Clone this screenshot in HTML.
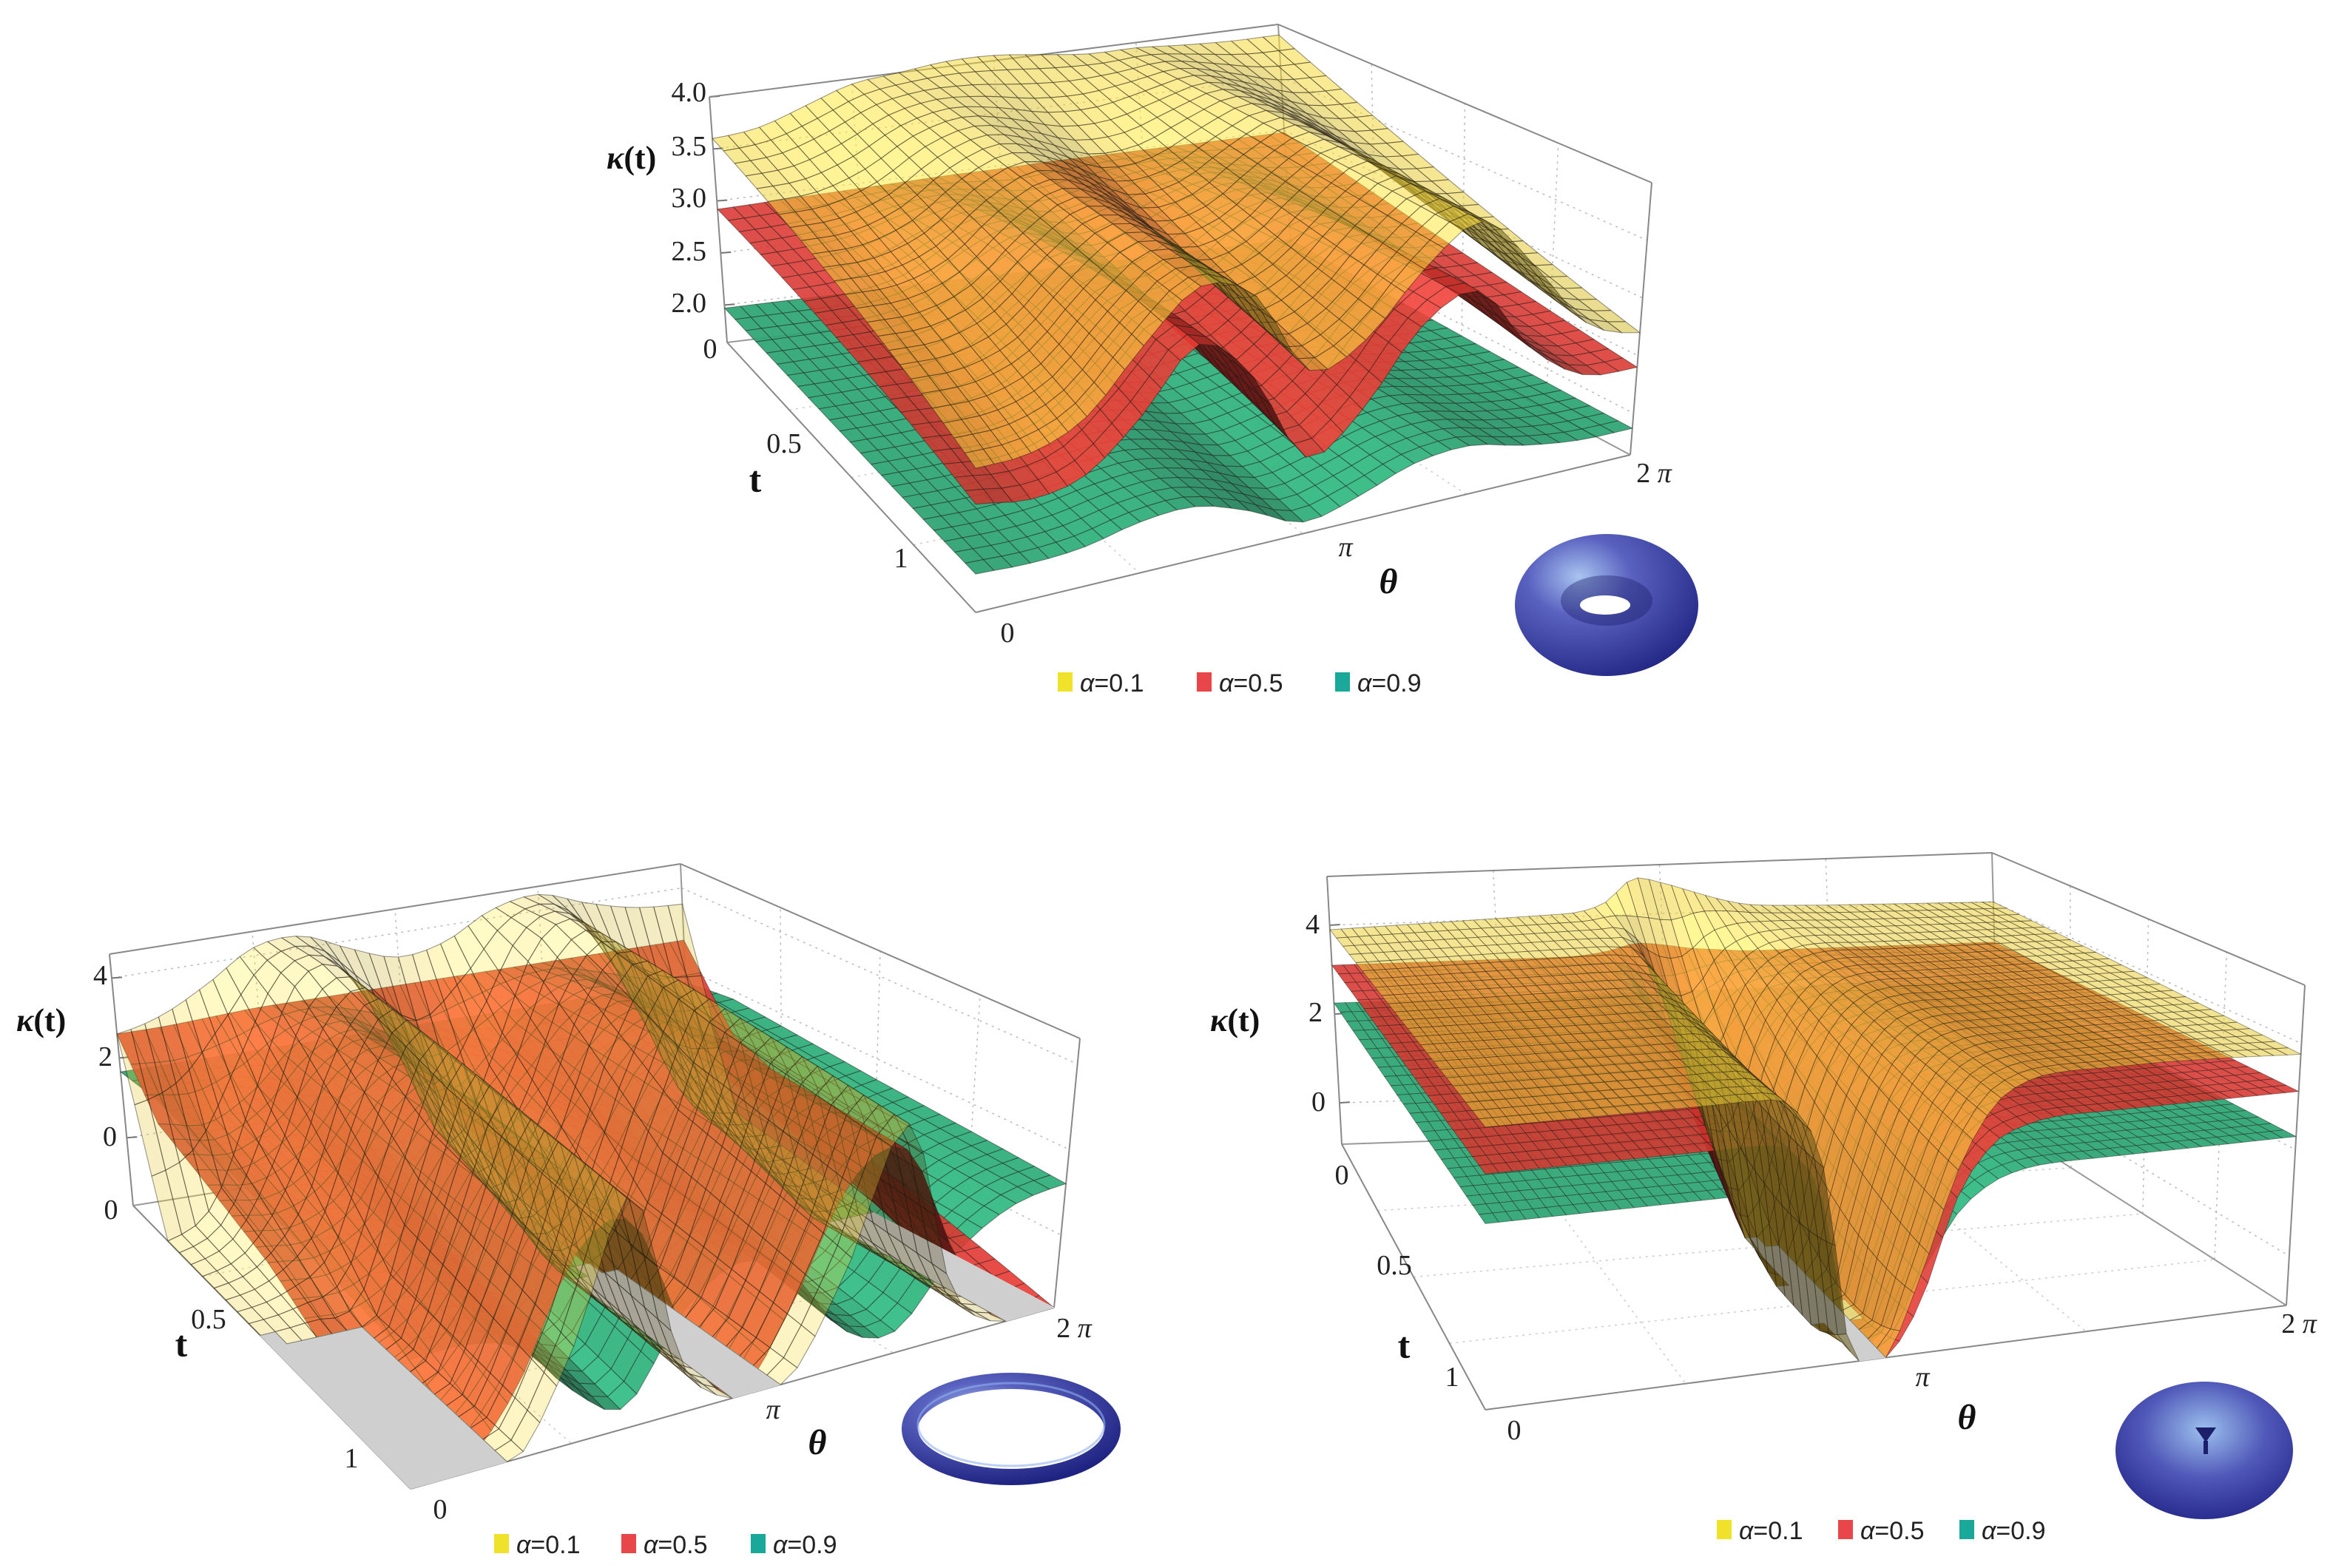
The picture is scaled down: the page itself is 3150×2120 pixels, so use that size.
<!DOCTYPE html>
<html>
<head>
<meta charset="utf-8">
<style>
html,body{margin:0;padding:0;background:#fff;}
svg{display:block;}
.tk{font-family:"Liberation Serif",serif;font-size:38px;fill:#222;}
.ax{font-family:"Liberation Serif",serif;font-weight:bold;fill:#111;}
.lg{font-family:"Liberation Sans",sans-serif;font-size:34px;fill:#222;}
</style>
</head>
<body>
<svg id="chart" width="3150" height="2120" viewBox="0 0 3150 2120" xmlns="http://www.w3.org/2000/svg">
<defs>
<radialGradient id="torusGrad" cx="0.35" cy="0.3" r="0.8">
<stop offset="0" stop-color="#a8c4f0"/>
<stop offset="0.35" stop-color="#5a62c0"/>
<stop offset="1" stop-color="#1e2280"/>
</radialGradient>
<radialGradient id="torusGrad2" cx="0.5" cy="0.35" r="0.7">
<stop offset="0" stop-color="#9cc0ee"/>
<stop offset="0.5" stop-color="#5058b8"/>
<stop offset="1" stop-color="#222688"/>
</radialGradient>
</defs>
<g id="p1"></g>
<g id="p2"></g>
<g id="p3"></g>

<g>
<text class="ax" x="820" y="228" font-size="44"><tspan font-style="italic">κ</tspan>(t)</text>
<text class="tk" x="955" y="137" text-anchor="end">4.0</text>
<text class="tk" x="955" y="210" text-anchor="end">3.5</text>
<text class="tk" x="955" y="280" text-anchor="end">3.0</text>
<text class="tk" x="955" y="352" text-anchor="end">2.5</text>
<text class="tk" x="955" y="422" text-anchor="end">2.0</text>
<text class="tk" x="960" y="484" text-anchor="middle">0</text>
<text class="tk" x="1060" y="612" text-anchor="middle">0.5</text>
<text class="tk" x="1218" y="767" text-anchor="middle">1</text>
<text class="ax" x="1021" y="665" font-size="50" text-anchor="middle">t</text>
<text class="tk" x="1362" y="868" text-anchor="middle">0</text>
<text class="tk" x="1819" y="752" font-size="32" font-style="italic" text-anchor="middle">π</text>
<text class="tk" x="2236" y="652" text-anchor="middle">2 <tspan font-style="italic">π</tspan></text>
<text class="ax" x="1877" y="802" font-size="48" font-style="italic" text-anchor="middle">θ</text>
</g>

<g>
<text class="ax" x="22" y="1394" font-size="44"><tspan font-style="italic">κ</tspan>(t)</text>
<text class="tk" x="145" y="1331" text-anchor="end">4</text>
<text class="tk" x="152" y="1441" text-anchor="end">2</text>
<text class="tk" x="158" y="1549" text-anchor="end">0</text>
<text class="tk" x="150" y="1648" text-anchor="middle">0</text>
<text class="tk" x="282" y="1796" text-anchor="middle">0.5</text>
<text class="tk" x="475" y="1984" text-anchor="middle">1</text>
<text class="ax" x="245" y="1834" font-size="50" text-anchor="middle">t</text>
<text class="tk" x="595" y="2053" text-anchor="middle">0</text>
<text class="tk" x="1045" y="1918" font-size="32" font-style="italic" text-anchor="middle">π</text>
<text class="tk" x="1452" y="1808" text-anchor="middle">2 <tspan font-style="italic">π</tspan></text>
<text class="ax" x="1105" y="1966" font-size="48" font-style="italic" text-anchor="middle">θ</text>
</g>

<g>
<text class="ax" x="1636" y="1394" font-size="44"><tspan font-style="italic">κ</tspan>(t)</text>
<text class="tk" x="1784" y="1262" text-anchor="end">4</text>
<text class="tk" x="1788" y="1381" text-anchor="end">2</text>
<text class="tk" x="1792" y="1502" text-anchor="end">0</text>
<text class="tk" x="1814" y="1601" text-anchor="middle">0</text>
<text class="tk" x="1885" y="1723" text-anchor="middle">0.5</text>
<text class="tk" x="1963" y="1874" text-anchor="middle">1</text>
<text class="ax" x="1898" y="1836" font-size="50" text-anchor="middle">t</text>
<text class="tk" x="2047" y="1946" text-anchor="middle">0</text>
<text class="tk" x="2599" y="1874" font-size="32" font-style="italic" text-anchor="middle">π</text>
<text class="tk" x="3108" y="1802" text-anchor="middle">2 <tspan font-style="italic">π</tspan></text>
<text class="ax" x="2659" y="1932" font-size="48" font-style="italic" text-anchor="middle">θ</text>
</g>

<g>
<ellipse cx="2172" cy="818" rx="124" ry="96" fill="url(#torusGrad)"/>
<ellipse cx="2172" cy="812" rx="62" ry="34" fill="#1c1f6a" opacity="0.4"/>
<ellipse cx="2170" cy="818" rx="34" ry="13" fill="#fff"/>
</g>
<g>
<ellipse cx="1367" cy="1932" rx="137" ry="65" fill="none" stroke="url(#torusGrad)" stroke-width="22"/>
<ellipse cx="1367" cy="1926" rx="126" ry="56" fill="none" stroke="#8fb0ee" stroke-width="3" opacity="0.6"/>
</g>
<g>
<ellipse cx="2980" cy="1961" rx="120" ry="93" fill="url(#torusGrad2)"/>
<path d="M2968 1930 L2982 1950 L2996 1930 Z" fill="#1c1f6a"/>
<rect x="2979" y="1948" width="6" height="18" fill="#1c1f6a"/>
</g>

<g>
<g><rect x="1430" y="909" width="20" height="26" fill="#f0e22a"/><text class="lg" x="1460" y="935"><tspan font-style="italic">α</tspan>=0.1</text></g>
<g><rect x="1618" y="909" width="20" height="26" fill="#e8464a"/><text class="lg" x="1648" y="935"><tspan font-style="italic">α</tspan>=0.5</text></g>
<g><rect x="1805" y="909" width="20" height="26" fill="#1aa89a"/><text class="lg" x="1835" y="935"><tspan font-style="italic">α</tspan>=0.9</text></g>
</g>
<g>
<g><rect x="668" y="2074" width="20" height="26" fill="#f0e22a"/><text class="lg" x="698" y="2100"><tspan font-style="italic">α</tspan>=0.1</text></g>
<g><rect x="840" y="2074" width="20" height="26" fill="#e8464a"/><text class="lg" x="870" y="2100"><tspan font-style="italic">α</tspan>=0.5</text></g>
<g><rect x="1015" y="2074" width="20" height="26" fill="#1aa89a"/><text class="lg" x="1045" y="2100"><tspan font-style="italic">α</tspan>=0.9</text></g>
</g>
<g>
<g><rect x="2321" y="2055" width="20" height="26" fill="#f0e22a"/><text class="lg" x="2351" y="2081"><tspan font-style="italic">α</tspan>=0.1</text></g>
<g><rect x="2485" y="2055" width="20" height="26" fill="#e8464a"/><text class="lg" x="2515" y="2081"><tspan font-style="italic">α</tspan>=0.5</text></g>
<g><rect x="2649" y="2055" width="20" height="26" fill="#1aa89a"/><text class="lg" x="2679" y="2081"><tspan font-style="italic">α</tspan>=0.9</text></g>
</g>
</svg>

<script>
// ---- Data: kappa values sampled uniformly over theta in [0, 2π]; one row per t value ----
const tRows = [0, 0.5, 1];
const p2TRows = [0, 0.12, 0.5, 1];
const p1Yellow = [
  [3.6,3.65,3.8,3.95,4.0,4.05,4.05,4.0,3.95,3.95,3.92,3.9,3.9],
  [3.3,3.3,3.45,3.8,4.0,3.8,3.45,3.5,3.8,4.0,3.7,3.3,3.2],
  [2.88,2.9,3.1,3.6,4.0,3.8,3.05,3.2,3.7,4.0,3.5,2.9,2.7]
];
const p1Red = [
  [2.92,2.93,2.94,2.95,2.96,2.97,2.97,2.98,2.98,2.98,2.98,2.98,2.98],
  [2.8,2.8,2.9,3.2,3.4,3.1,2.7,2.9,3.2,3.3,3.0,2.7,2.65],
  [2.57,2.5,2.6,3.0,3.5,3.1,2.3,2.6,3.2,3.4,2.8,2.45,2.4]
];
const p1Green = [
  [1.97,1.97,1.97,1.97,1.97,1.97,1.97,1.97,1.97,1.97,1.97,1.97,1.97],
  [1.96,1.96,1.98,2.02,2.05,2.0,1.9,1.95,2.03,2.05,1.98,1.92,1.9],
  [1.97,1.95,1.98,2.08,2.1,1.95,1.74,1.85,2.02,2.06,1.95,1.88,1.87]
];
const p2Yellow = [
  [2.6,2.9,3.5,4.2,4.3,3.8,3.4,3.6,4.2,4.4,4.0,3.7,3.6],
  [-1.7,-1.0,1.5,4.0,4.2,2.0,-0.5,1.5,4.0,4.3,2.0,-0.5,-1.0],
  [-1.7,-1.7,-1.7,1.5,4.0,0.0,-1.7,-1.7,1.5,4.0,0.0,-1.7,-1.7],
  [-1.7,-1.7,-1.7,0.5,3.6,-0.5,-1.7,-1.7,0.5,3.6,-0.5,-1.7,-1.7]
];
const p2Red = [
  [2.6,2.6,2.65,2.7,2.7,2.7,2.7,2.7,2.7,2.7,2.7,2.7,2.7],
  [1.2,1.0,1.6,2.6,2.9,2.0,0.8,1.6,2.6,2.9,2.0,1.0,0.9],
  [0.3,0.2,0.8,2.6,3.2,1.2,-1.0,0.5,2.6,3.2,1.2,0.0,-0.5],
  [-1.7,-1.5,0.0,2.6,3.0,0.3,-1.7,0.0,2.6,3.0,0.3,-1.7,-1.7]
];
const p2Green = [
  [1.65,1.65,1.65,1.65,1.65,1.65,1.65,1.65,1.65,1.65,1.65,1.65,1.65],
  [1.8,1.8,1.7,1.3,1.1,1.6,1.9,1.6,1.2,1.1,1.5,1.7,1.8],
  [1.6,1.6,1.3,0.3,-0.6,1.2,1.7,1.2,-0.2,-0.6,0.4,1.2,1.5],
  [1.2,1.2,0.8,-0.5,-1.2,0.6,1.4,0.8,-0.8,-1.2,0.2,1.0,1.2]
];
const p3Yellow = [
  [3.9,3.92,3.94,3.96,3.98,4.0,4.02,4.04,4.06,4.1,4.3,4.8,4.7,4.5,4.3,4.15,4.1,4.08,4.06,4.05,4.04,4.03,4.02,4.01,4.0],
  [3.9,3.9,3.9,3.9,3.9,3.9,3.9,3.9,3.9,3.8,3.0,-0.93,-0.93,1.5,3.0,3.7,3.9,3.9,3.9,3.9,3.9,3.9,3.9,3.9,3.9],
  [3.9,3.9,3.9,3.9,3.9,3.9,3.9,3.9,3.9,3.75,2.6,-0.93,-0.93,0.5,2.3,3.4,3.8,3.9,3.9,3.9,3.9,3.88,3.86,3.83,3.8]
];
const p3Red = [
  [3.1,3.1,3.1,3.1,3.1,3.1,3.1,3.1,3.1,3.12,3.2,3.35,3.3,3.2,3.15,3.1,3.1,3.1,3.1,3.1,3.1,3.1,3.1,3.1,3.1],
  [3.1,3.1,3.1,3.1,3.1,3.1,3.1,3.1,3.1,3.0,2.3,-0.93,-0.93,0.8,2.3,2.9,3.1,3.1,3.1,3.1,3.1,3.1,3.1,3.1,3.1],
  [3.1,3.1,3.1,3.1,3.1,3.1,3.1,3.1,3.1,2.95,2.0,-0.93,-0.93,0.0,1.8,2.7,3.0,3.1,3.1,3.1,3.1,3.1,3.1,3.1,3.1]
];
const p3Green = [
  [2.25,2.25,2.25,2.25,2.25,2.25,2.25,2.25,2.25,2.25,2.25,2.25,2.25,2.25,2.25,2.25,2.25,2.25,2.25,2.25,2.25,2.25,2.25,2.25,2.25],
  [2.25,2.25,2.25,2.25,2.25,2.25,2.25,2.25,2.25,2.2,1.7,-0.2,0.0,0.8,1.7,2.1,2.25,2.25,2.25,2.25,2.25,2.25,2.25,2.25,2.25],
  [2.25,2.25,2.25,2.25,2.25,2.25,2.25,2.25,2.25,2.15,1.5,-0.5,-0.4,0.5,1.5,2.0,2.2,2.25,2.25,2.25,2.25,2.25,2.25,2.25,2.25]
];
const p1ZTicks = [2.0, 2.5, 3.0, 3.5, 4.0];
const p2ZTicks = [0, 2, 4];
const p3ZTicks = [0, 2, 4];

const panels = [
  {id:'p1', nu:36, zw:0.8, uw:0.4, tr:tRows, op:[0.92,0.88,0.55], BL:[983,463], BR:[1747,371], FL:[1319,828], FR:[2204,615], h:[332,338,371,368], lean:[-24,-19,0,29], zmin:1.64, zmax:4.0, surfaces:[p1Green,p1Red,p1Yellow], zticks:p1ZTicks},
  {id:'p2', nu:40, zw:0.1, uw:0.9, tr:p2TRows, op:[0.92,0.9,0.3], BL:[180,1630], BR:[935,1510], FL:[555,2013], FR:[1425,1768], h:[340,342,380,364], lean:[-32,-15,0,35], zmin:-1.7, zmax:4.6, surfaces:[p2Green,p2Red,p2Yellow], zticks:p2ZTicks},
  {id:'p3', nu:60, zw:0.8, uw:0.4, tr:tRows, op:[0.92,0.88,0.55], BL:[1814,1547], BR:[2703,1517], FL:[2008,1906], FR:[3091,1765], h:[362,364,477,433], lean:[-20,-10,0,25], zmin:-0.93, zmax:5.1, surfaces:[p3Green,p3Red,p3Yellow], zticks:p3ZTicks}
];
const surfNames = ['alpha-0.9-surface','alpha-0.5-surface','alpha-0.1-surface'];
const surfBase = [[46,178,124],[232,58,52],[250,222,60]];
const NS = 'http://www.w3.org/2000/svg';

function bil(u,v,a,b,c,d){return (1-u)*(1-v)*a+u*(1-v)*b+(1-u)*v*c+u*v*d;}
function proj(P,u,v,z){
  const fx=bil(u,v,P.BL[0],P.BR[0],P.FL[0],P.FR[0]);
  const fy=bil(u,v,P.BL[1],P.BR[1],P.FL[1],P.FR[1]);
  const h=bil(u,v,P.h[0],P.h[1],P.h[2],P.h[3]);
  const l=bil(u,v,P.lean[0],P.lean[1],P.lean[2],P.lean[3]);
  const w=(z-P.zmin)/(P.zmax-P.zmin);
  return [fx+l*w, fy-h*w];
}
function cr(a,u){
  const n=a.length-1; let x=u*n; let i=Math.floor(x); if(i>=n)i=n-1; if(i<0)i=0;
  const t=x-i;
  const p0=a[Math.max(i-1,0)],p1=a[i],p2=a[i+1],p3=a[Math.min(i+2,n)];
  return 0.5*((2*p1)+(-p0+p2)*t+(2*p0-5*p1+4*p2-p3)*t*t+(-p0+3*p1-3*p2+p3)*t*t*t);
}
function evalZ(rows,tr,u,v,zmin){
  const r=rows.map(a=>cr(a,u));
  let z;
  if(rows.length===3){
    const t0=tr[0],t1=tr[1],t2=tr[2];
    const L0=(v-t1)*(v-t2)/((t0-t1)*(t0-t2));
    const L1=(v-t0)*(v-t2)/((t1-t0)*(t1-t2));
    const L2=(v-t0)*(v-t1)/((t2-t0)*(t2-t1));
    z=r[0]*L0+r[1]*L1+r[2]*L2;
  } else {
    let k=0; while(k<tr.length-2 && v>tr[k+1]) k++;
    const f=(v-tr[k])/(tr[k+1]-tr[k]);
    z=r[k]*(1-f)+r[k+1]*f;
  }
  return Math.max(zmin, z);
}
function mk(tag,attrs,parent){const e=document.createElementNS(NS,tag);for(const k in attrs)e.setAttribute(k,attrs[k]);parent.appendChild(e);return e;}

panels.forEach(P=>{
  const g=document.getElementById(P.id);
  const zr=P.zmax-P.zmin;
  const box=mk('g',{},g);
  
  
  const ln=(a,b,st,w,da)=>{const e=mk('line',{x1:a[0],y1:a[1],x2:b[0],y2:b[1],stroke:st,'stroke-width':w},box); if(da)e.setAttribute('stroke-dasharray',da); return e;};
  P.zticks.forEach(z=>{
    ln(proj(P,0,0,z),proj(P,1,0,z),'#bbb',1.5,'3 6');
    ln(proj(P,1,0,z),proj(P,1,1,z),'#bbb',1.5,'3 6');
    const a=proj(P,0,0,z); ln(a,[a[0]+14,a[1]-1],'#777',2);
  });
  [0.25,0.5,0.75].forEach(u=>{
    ln(proj(P,u,0,P.zmin),proj(P,u,0,P.zmax),'#bbb',1.5,'3 6');
    ln(proj(P,u,0,P.zmin),proj(P,u,1,P.zmin),'#ccc',1.5,'3 6');
  });
  [0.25,0.5,0.75].forEach(v=>{
    ln(proj(P,1,v,P.zmin),proj(P,1,v,P.zmax),'#bbb',1.5,'3 6');
    ln(proj(P,0,v,P.zmin),proj(P,1,v,P.zmin),'#ccc',1.5,'3 6');
  });
  const c=(u,v,top)=>proj(P,u,v,top?P.zmax:P.zmin);
  ln(c(0,0,0),c(1,0,0),'#999',2); ln(c(0,0,0),c(0,1,0),'#888',2);
  ln(c(0,1,0),c(1,1,0),'#888',2); ln(c(1,1,0),c(1,0,0),'#999',2);
  ln(c(0,0,0),c(0,0,1),'#888',2); ln(c(1,0,0),c(1,0,1),'#999',2); ln(c(1,1,0),c(1,1,1),'#888',2);
  ln(c(0,0,1),c(1,0,1),'#888',2); ln(c(1,0,1),c(1,1,1),'#888',2);

  const nu=P.nu, nv=24; const cells=[];
  P.surfaces.forEach((rows,si)=>{
    for(let j=0;j<nv;j++){
      for(let i=0;i<nu;i++){
        const u0=i/nu,u1=(i+1)/nu,v0=j/nv,v1=(j+1)/nv;
        const z00=evalZ(rows,P.tr,u0,v0,P.zmin),z10=evalZ(rows,P.tr,u1,v0,P.zmin),z11=evalZ(rows,P.tr,u1,v1,P.zmin),z01=evalZ(rows,P.tr,u0,v1,P.zmin);
        const zavg=(z00+z10+z11+z01)/4;
        const floor=Math.max(z00,z10,z11,z01)<=P.zmin+0.02;
        const dzu=((z10+z11)-(z00+z01))/2/zr*nu*0.25;
        const dzv=((z01+z11)-(z00+z10))/2/zr*nv*0.25;
        const key = floor ? -10+(v0+v1)/2 : (v0+v1)/2+P.uw*(1-(u0+u1)/2)+P.zw*(zavg-P.zmin)/zr;
        cells.push({si,u0,u1,v0,v1,z:[z00,z10,z11,z01],zavg,dzu,dzv,floor,key});
      }
    }
  });
  cells.sort((a,b)=>a.key-b.key);
  const sg=[0,1,2].map(si=>{const e=mk('g',{},g);
    
    
    return e;});
  const Lx=-0.55,Ly=0.45,Lz=0.7, Ln=Math.hypot(Lx,Ly,Lz);
  const sw = nu>40 ? 0.9 : 1.1;
  cells.forEach(cl=>{
    const pts=[proj(P,cl.u0,cl.v0,cl.z[0]),proj(P,cl.u1,cl.v0,cl.z[1]),proj(P,cl.u1,cl.v1,cl.z[2]),proj(P,cl.u0,cl.v1,cl.z[3])];
    let fill,op;
    if(cl.floor){fill='#cfcfcf';op=1;}
    else{
      const nx=-cl.dzu*2.2*(36/nu), ny=-cl.dzv*2.2, nz=1, nn=Math.hypot(nx,ny,nz);
      const b=(nx*Lx+ny*Ly+nz*Lz)/(nn*Ln);
      const f=0.5+0.6*b;
      const bc=surfBase[cl.si];
      fill='rgb('+bc.map(x=>Math.min(255,Math.round(x*f))).join(',')+')';
      op=P.op[cl.si];
    }
    const poly=mk('polygon',{points:pts.map(p=>p[0].toFixed(1)+','+p[1].toFixed(1)).join(' '),fill:fill,'fill-opacity':op,stroke:cl.floor?'#cfcfcf':'rgba(30,25,20,0.45)','stroke-width':sw,'stroke-linejoin':'round'},sg[cl.si]);
    
    
  });
});
</script>
</body>
</html>
